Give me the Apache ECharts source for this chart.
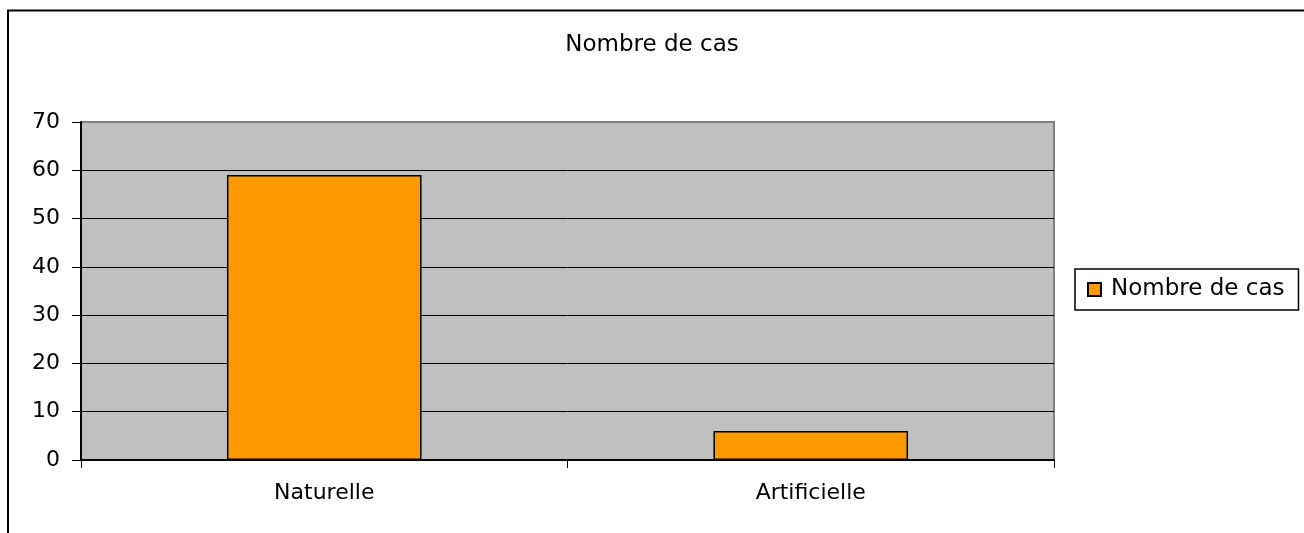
<!DOCTYPE html>
<html>
<head>
<meta charset="utf-8">
<script src="https://cdn.jsdelivr.net/npm/echarts@6/dist/echarts.min.js"></script>
<style>html,body{margin:0;padding:0;background:#fff}#c{width:1304px;height:533px}</style>
</head>
<body>
<div id="c"></div>
<script>
const categories = ['Naturelle', 'Artificielle'];
const seriesName = 'Nombre de cas';
const values = [59, 6];
const titleText = 'Nombre de cas';

const FONT = 'DejaVu Sans';
const chart = echarts.init(document.getElementById('c'), null, {renderer: 'canvas'});
chart.setOption({
  backgroundColor: '#fff',
  animation: false,
  title: {
    text: titleText, left: 'center', top: 29,
    textStyle: {fontFamily: FONT, fontSize: 23, fontWeight: 'normal', color: '#000'}
  },
  graphic: [{
    type: 'rect', silent: true, z: -1,
    shape: {x: 8, y: 10.5, width: 2000, height: 2000},
    style: {fill: 'none', stroke: '#000', lineWidth: 2}
  }],
  legend: {
    left: 1075, top: 269, orient: 'vertical',
    padding: [9, 14, 9, 12],
    borderColor: '#000', borderWidth: 1.5,
    itemWidth: 13, itemHeight: 13,
    icon: 'rect',
    textStyle: {fontFamily: FONT, fontSize: 23, color: '#000', padding: [0, 0, 0, 5]},
    data: [seriesName]
  },
  grid: {
    left: 81, right: 250, top: 122, bottom: 73,
    show: true, backgroundColor: '#c0c0c0', borderColor: '#808080', borderWidth: 2
  },
  xAxis: {
    type: 'category', data: categories,
    axisLine: {lineStyle: {color: '#000', width: 2}},
    axisTick: {show: true, length: 8, lineStyle: {color: '#000', width: 1}},
    axisLabel: {fontFamily: FONT, fontSize: 22, color: '#000', margin: 22}
  },
  yAxis: {
    type: 'value', min: 0, max: 70, interval: 10,
    axisLine: {show: true, lineStyle: {color: '#000', width: 2}},
    axisTick: {show: true, length: 9, lineStyle: {color: '#000', width: 1}},
    axisLabel: {fontFamily: FONT, fontSize: 22, color: '#000', margin: 21},
    splitLine: {show: true, showMaxLine: false, lineStyle: {color: '#000', width: 1}}
  },
  series: [{
    name: seriesName, type: 'bar', data: values, barWidth: '40%',
    itemStyle: {color: '#ff9900', borderColor: '#000', borderWidth: 1.5}
  }]
});
</script>
</body>
</html>
